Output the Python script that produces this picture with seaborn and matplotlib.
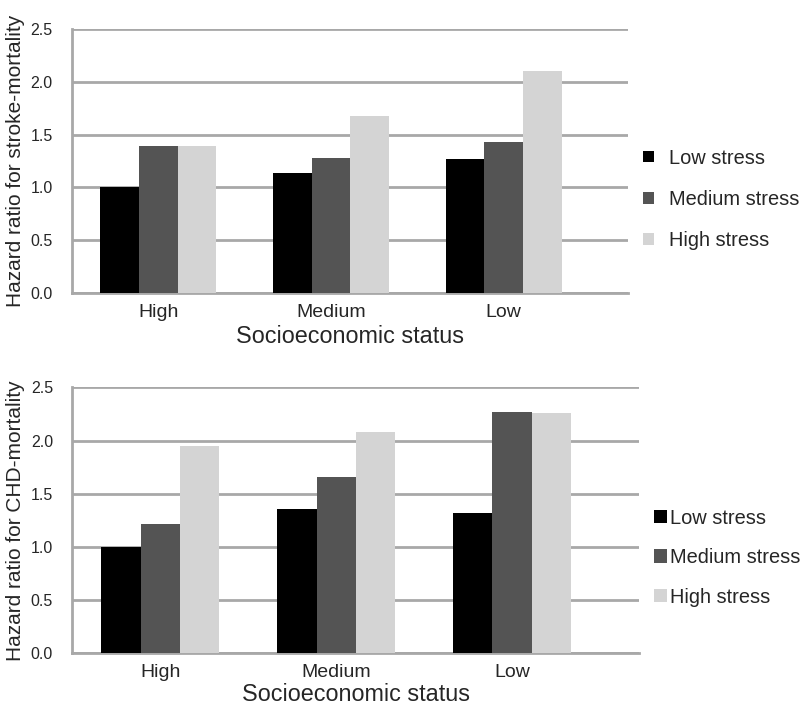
import matplotlib
matplotlib.use("Agg")
import matplotlib.pyplot as plt
import seaborn as sns
import pandas as pd
from matplotlib.patches import Patch

ses = ["High", "Medium", "Low"]
stress = ["Low stress", "Medium stress", "High stress"]
stroke_low = [1.00, 1.14, 1.27]
stroke_med = [1.39, 1.28, 1.43]
stroke_high = [1.39, 1.68, 2.10]
chd_low = [1.00, 1.36, 1.32]
chd_med = [1.22, 1.66, 2.265]
chd_high = [1.95, 2.08, 2.255]
yticks = [0.0, 0.5, 1.0, 1.5, 2.0, 2.5]

colors = ["#000000", "#545454", "#d4d4d4"]
grid_c = "#a8a8a8"

sns.set_style("white")
plt.rcParams['font.family'] = ['Liberation Sans', 'DejaVu Sans']

def make_df(lo, me, hi):
    rows = []
    for i, s in enumerate(ses):
        rows.append((s, stress[0], lo[i]))
        rows.append((s, stress[1], me[i]))
        rows.append((s, stress[2], hi[i]))
    return pd.DataFrame(rows, columns=["ses", "stress", "hr"])

fig = plt.figure(figsize=(8, 7.05), dpi=100)
ax1 = fig.add_axes([0.09, 0.5844, 0.695, 0.3745])
ax2 = fig.add_axes([0.0904, 0.0733, 0.708, 0.3773])

configs = [
    (ax1, make_df(stroke_low, stroke_med, stroke_high), "Hazard ratio for stroke-mortality",
     0.717, 0.804, 10.5, 0.75, 1.12, 3),
    (ax2, make_df(chd_low, chd_med, chd_high), "Hazard ratio for CHD-mortality",
     0.209, 0.8175, 13, 0.15, 1.02, 1),
]

lfs = 14.4
for ax, df, ylab, ly, lx, msz, tpad, lsp, xlp in configs:
    sns.barplot(data=df, x="ses", y="hr", hue="stress", order=ses, hue_order=stress,
                palette=colors, width=0.67, saturation=1, ax=ax, legend=False,
                edgecolor="none", linewidth=0, zorder=3)
    ax.set_xlim(-0.5, 2.72)
    ax.set_ylim(0, 2.5)
    ax.set_yticks(yticks)
    ax.set_yticklabels([f"{v:.1f}" for v in yticks])
    ax.grid(axis="y", color=grid_c, linewidth=2.0, zorder=0)
    ax.grid(axis="x", visible=False)
    ax.set_axisbelow(True)
    for sp in ["top", "right"]:
        ax.spines[sp].set_visible(False)
    ax.spines["left"].set_color(grid_c)
    ax.spines["left"].set_linewidth(2.0)
    ax.spines["bottom"].set_color(grid_c)
    ax.spines["bottom"].set_linewidth(2.0)
    ax.tick_params(axis="y", length=4, width=1.5, color=grid_c, pad=10, labelsize=11.5)
    ax.tick_params(axis="x", length=0, pad=8, labelsize=14)
    ax.set_xlabel("Socioeconomic status", fontsize=16.8, labelpad=xlp)
    ax.set_ylabel(ylab, fontsize=15, labelpad=4)
    handles = [Patch(facecolor=c, edgecolor="none") for c in colors]
    px = lfs * 100 / 72
    fig.legend(handles, stress, loc="center left", bbox_to_anchor=(lx, ly),
               frameon=False, fontsize=lfs, handlelength=msz / px,
               handleheight=msz / px, handletextpad=tpad, labelspacing=lsp,
               borderaxespad=0, borderpad=0)

fig.savefig("out.png", dpi=100)
